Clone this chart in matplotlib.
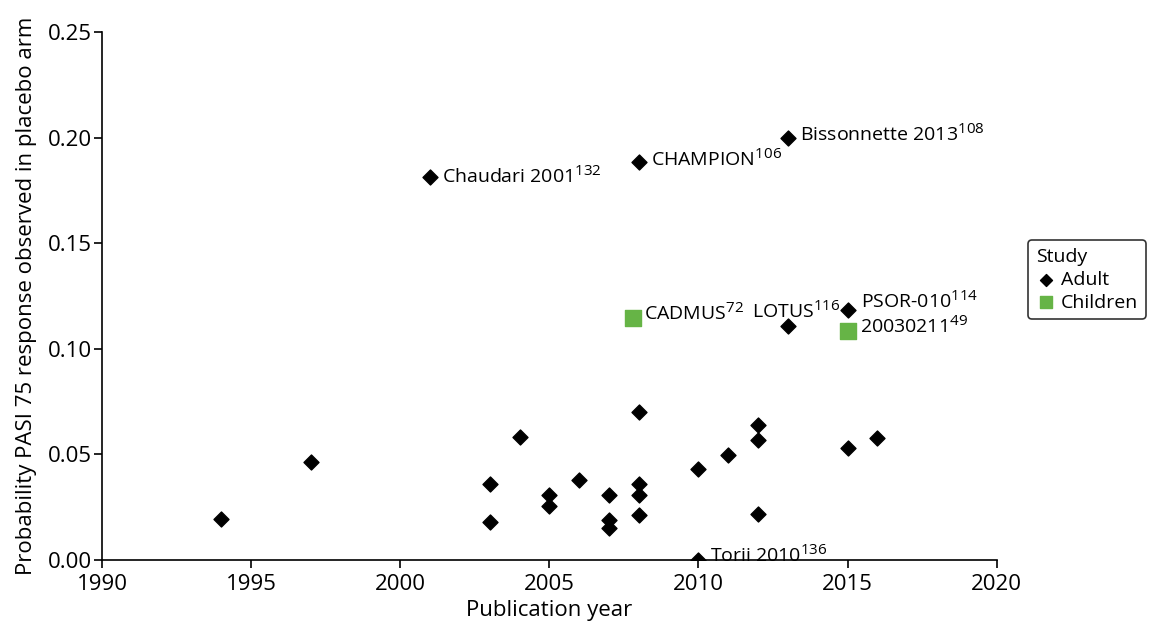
import numpy as np
import matplotlib.pyplot as plt
import matplotlib._mathtext as mathtext_mod

plt.rcParams['font.family'] = ['Open Sans', 'DejaVu Sans']
plt.rcParams['mathtext.fontset'] = 'custom'
plt.rcParams['mathtext.rm'] = 'Open Sans'
plt.rcParams['mathtext.it'] = 'Open Sans'
plt.rcParams['mathtext.default'] = 'rm'
# slightly larger superscripts for the reference numbers
mathtext_mod.SHRINK_FACTOR = 0.78

# Adult studies
adult_year = [1994, 1997, 2001, 2003, 2003, 2004, 2005, 2005, 2006, 2007, 2007, 2007,
              2008, 2008, 2008, 2008, 2008, 2010, 2010, 2011, 2012, 2012, 2012,
              2013, 2013, 2015, 2015, 2016]
adult_prob = [0.0194, 0.0464, 0.1813, 0.0360, 0.0180, 0.0582, 0.0310, 0.0256, 0.0379,
              0.0308, 0.0190, 0.0152, 0.0700, 0.0360, 0.0310, 0.0213, 0.1884, 0.0431,
              0.0000, 0.0497, 0.0639, 0.0568, 0.0218, 0.1998, 0.1108, 0.1184, 0.0530,
              0.0578]
# Children studies
child_year = [2007.8, 2015.0]
child_prob = [0.1146, 0.1084]

# labelled studies
lab_year = [2001, 2008, 2013, 2007.8, 2013, 2015, 2015.0, 2010]
lab_prob = [0.1813, 0.1884, 0.1998, 0.1146, 0.1108, 0.1184, 0.1084, 0.0000]
lab_name = ['Chaudari 2001', 'CHAMPION', 'Bissonnette 2013', 'CADMUS', 'LOTUS',
            'PSOR-010', '20030211', 'Torii 2010']
lab_ref = ['132', '106', '108', '72', '116', '114', '49', '136']
lab_dx = [12, 12, 12, 11, -36, 13, 12, 12]
lab_dy = [1, 3, 4, 5, 15, 9, 5, 5]

fig = plt.figure(figsize=(11.5, 6.26), dpi=100)
ax = fig.add_axes([0.0887, 0.1054, 0.778, 0.8434])

ax.scatter(adult_year, adult_prob, marker='D', s=58, color='black', label='Adult', zorder=3)
ax.scatter(child_year, child_prob, marker='s', s=117, color='#66b446', label='Children', zorder=3)

for x, y, n, r, dx, dy in zip(lab_year, lab_prob, lab_name, lab_ref, lab_dx, lab_dy):
    ax.annotate(n + '$^{' + r + '}$', (x, y), xytext=(dx, dy), textcoords='offset pixels',
                ha='left', va='center', fontsize=14, zorder=4)

ax.set_xlim(1990, 2020)
ax.set_ylim(0, 0.25)
ax.set_xticks([1990, 1995, 2000, 2005, 2010, 2015, 2020])
ax.set_yticks([0, 0.05, 0.10, 0.15, 0.20, 0.25])
ax.set_yticklabels(['0.00', '0.05', '0.10', '0.15', '0.20', '0.25'])
ax.tick_params(labelsize=16, length=6, width=1.2, pad=1)
ax.tick_params(axis='x', pad=4)
for s in ['top', 'right']:
    ax.spines[s].set_visible(False)
for s in ['left', 'bottom']:
    ax.spines[s].set_linewidth(1.2)
ax.set_xlabel('Publication year', fontsize=16, labelpad=4)
ax.set_ylabel('Probability PASI 75 response observed in placebo arm', fontsize=16, labelpad=8)

leg = ax.legend(title='Study', loc='upper left', bbox_to_anchor=(1.035, 0.606),
                fontsize=14, title_fontsize=14, frameon=True, fancybox=True,
                edgecolor='black', handletextpad=0.3, borderpad=0.4,
                labelspacing=0.25, handlelength=1.0, borderaxespad=0,
                markerscale=0.8)
leg._legend_box.align = 'left'
leg.get_frame().set_linewidth(1.2)

fig.savefig('out.png', dpi=100)
